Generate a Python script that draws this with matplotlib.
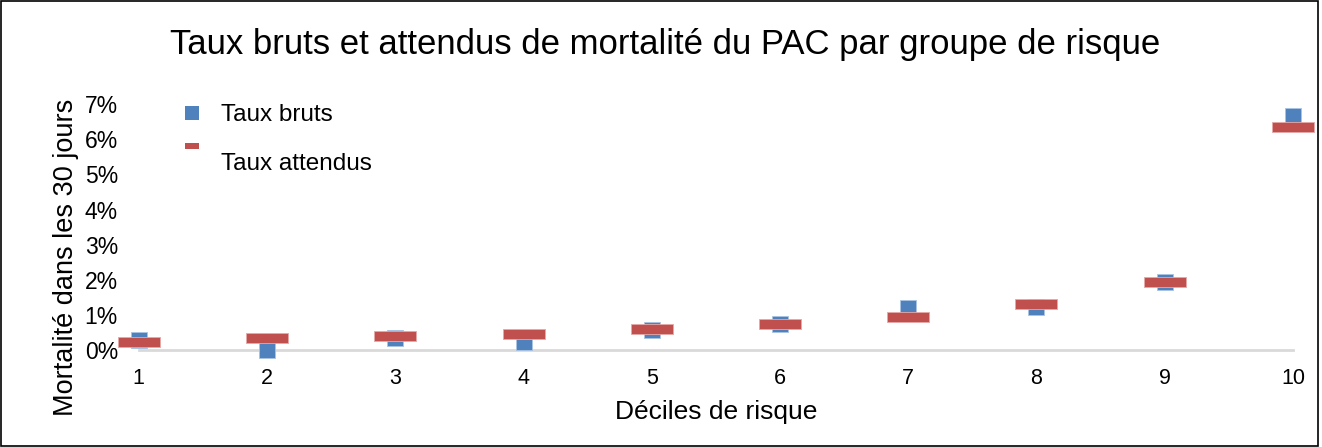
import matplotlib.pyplot as plt
from matplotlib.patches import Rectangle
from matplotlib.ticker import PercentFormatter
from matplotlib.transforms import ScaledTranslation

plt.rcParams['font.family'] = ['Liberation Sans', 'DejaVu Sans']

deciles = [1, 2, 3, 4, 5, 6, 7, 8, 9, 10]
taux_bruts = [0.28, 0.01, 0.34, 0.24, 0.57, 0.75, 1.20, 1.22, 1.93, 6.66]
taux_attendus = [0.23, 0.33, 0.40, 0.46, 0.60, 0.75, 0.93, 1.30, 1.93, 6.36]

blue = '#4F81BD'
red = '#C0504D'

fig = plt.figure(figsize=(13.22, 4.47), dpi=100)
ax = fig.add_axes([0.105, 0.217, 0.873, 0.550])

# wide flat dash marker for the expected rates
dash = [(-2.1, -0.5), (2.1, -0.5), (2.1, 0.5), (-2.1, 0.5), (-2.1, -0.5)]
dash_leg = [(-1.3, -0.5), (1.3, -0.5), (1.3, 0.5), (-1.3, 0.5), (-1.3, -0.5)]

ax.plot(deciles, taux_bruts, linestyle='none', marker='s', markersize=11,
        color=blue, markeredgecolor='#a9c3e3', markeredgewidth=0.6,
        clip_on=False, label='Taux bruts', zorder=3)
ax.plot(deciles, taux_attendus, linestyle='none', marker=dash, markersize=30,
        color=red, markeredgecolor='#e6a9a7', markeredgewidth=0.6,
        clip_on=False, label='Taux attendus', zorder=4)

ax.set_xlim(1, 10)
ax.set_ylim(0, 7)
ax.set_xticks(deciles)
ax.set_yticks(range(0, 8))
ax.yaxis.set_major_formatter(PercentFormatter(decimals=0))
ax.tick_params(length=0)
ax.tick_params(axis='x', pad=13, labelsize=15.5)
ax.tick_params(axis='y', pad=15, labelsize=16.5)

for s in ['top', 'right', 'left']:
    ax.spines[s].set_visible(False)
ax.spines['bottom'].set_color('#d9d9d9')
ax.spines['bottom'].set_linewidth(2)

ax.set_xlabel('Déciles de risque', fontsize=19)
ax.set_ylabel('Mortalité dans les 30 jours', fontsize=19.5)
ax.xaxis.set_label_coords(0.5, -0.205)
ax.yaxis.set_label_coords(-0.052, 0.378)

leg = ax.legend(loc='upper left', bbox_to_anchor=(0.0185, 1.088), frameon=False,
                fontsize=17.5, labelspacing=0.45, handlelength=0.85,
                handletextpad=0.75)
hb, ha = leg.legend_handles
hb.set_markersize(9.5)
hb.set_markeredgewidth(0)
ha.set_marker(dash_leg)
ha.set_markersize(9.5)
ha.set_markeredgewidth(0)
# the second label sits a little below its marker
t2 = leg.get_texts()[1]
t2.set_transform(t2.get_transform() + ScaledTranslation(0, -11 / 72, fig.dpi_scale_trans))

fig.text(0.503, 0.90, 'Taux bruts et attendus de mortalité du PAC par groupe de risque',
         ha='center', va='center', fontsize=25)

fig.patches.append(Rectangle((0.001, 0.003), 0.996, 0.994, transform=fig.transFigure,
                             fill=False, edgecolor='black', linewidth=1.2))

fig.savefig('out.png', dpi=100)
